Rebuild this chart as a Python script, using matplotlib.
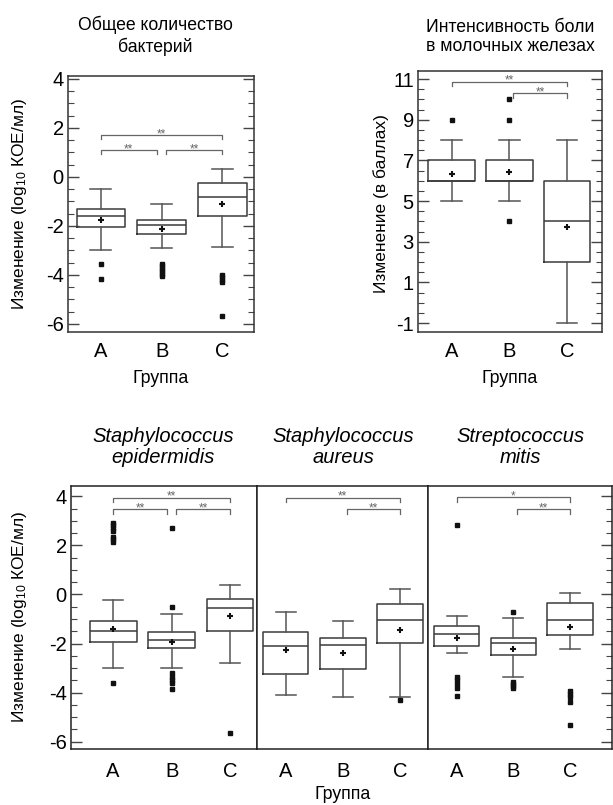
import matplotlib.pyplot as plt
from matplotlib.ticker import MultipleLocator

plt.rcParams["font.family"] = ["Liberation Sans", "DejaVu Sans"]
plt.rcParams["mathtext.fontset"] = "custom"
plt.rcParams["mathtext.rm"] = "Liberation Sans"
plt.rcParams["mathtext.it"] = "Liberation Sans:italic"
plt.rcParams["axes.unicode_minus"] = False

groups = ["A", "B", "C"]

# rows per group: whislo, q1, median, q3, whishi, mean
total_box = [[-3.00, -2.06, -1.61, -1.31, -0.48, -1.75],
             [-2.90, -2.34, -1.97, -1.75, -1.10, -2.13],
             [-2.84, -1.61, -0.80, -0.25, 0.32, -1.10]]
total_out = [[-3.56, -4.17],
             [-3.55, -3.65, -3.75, -3.85, -3.95, -4.05],
             [-4.00, -4.10, -4.20, -4.30, -5.67]]
total_sig = [(1, 3, 1.72, "**"), (1, 2, 1.11, "**"), (2, 3, 1.11, "**")]

pain_box = [[5, 6, 6, 7, 8, 6.35],
            [5, 6, 6, 7, 8, 6.45],
            [-1, 2, 4, 6, 8, 3.75]]
pain_out = [[9], [9, 10, 4], []]
pain_sig = [(1, 3, 10.88, "**"), (2, 3, 10.31, "**")]

epi_box = [[-2.99, -1.93, -1.49, -1.09, -0.23, -1.39],
           [-2.99, -2.20, -1.86, -1.52, -0.78, -1.93],
           [-2.78, -1.49, -0.57, -0.17, 0.38, -0.88]]
epi_out = [[2.14, 2.25, 2.35, 2.6, 2.7, 2.82, 2.93, -3.62],
           [-0.5, 2.72, -3.22, -3.35, -3.48, -3.6, -3.87],
           [-5.66]]
epi_sig = [(1, 3, 3.95, "**"), (1, 2, 3.47, "**"), (2, 3, 3.47, "**")]

aur_box = [[-4.10, -3.24, -2.10, -1.52, -0.71, -2.27],
           [-4.17, -3.05, -2.06, -1.79, -1.09, -2.38],
           [-4.17, -1.96, -1.05, -0.41, 0.21, -1.43]]
aur_out = [[], [], [-4.30]]
aur_sig = [(1, 3, 3.95, "**"), (2, 3, 3.47, "**")]

mit_box = [[-2.40, -2.09, -1.63, -1.28, -0.88, -1.76],
           [-3.35, -2.46, -1.97, -1.77, -0.98, -2.24],
           [-2.23, -1.66, -1.05, -0.33, 0.07, -1.32]]
mit_out = [[2.85, -3.35, -3.5, -3.65, -3.8, -4.15],
           [-0.73, -3.55, -3.65, -3.75, -3.83],
           [-3.92, -4.05, -4.18, -4.37, -5.32]]
mit_sig = [(1, 3, 3.97, "*"), (2, 3, 3.47, "**")]

W, H = 613, 805
fig = plt.figure(figsize=(W / 100, H / 100), dpi=100)

line_c = "#3a3a3a"
frame_c = "#333333"


def px_axes(x0, y0, x1, y1):
    return fig.add_axes([x0 / W, 1 - y1 / H, (x1 - x0) / W, (y1 - y0) / H])


def draw_panel(ax, box, out, sig, xlim, ylim, left=True, right=True, labels=True):
    stats = []
    for b, f in zip(box, out):
        stats.append(dict(whislo=b[0], q1=b[1], med=b[2], q3=b[3], whishi=b[4],
                          mean=b[5], fliers=f))
    ax.bxp(stats, positions=[1, 2, 3], widths=0.8, capwidths=0.35, showmeans=True,
           manage_ticks=False,
           boxprops=dict(color=line_c, linewidth=1.1),
           whiskerprops=dict(color="#555555", linewidth=1.1),
           capprops=dict(color="#555555", linewidth=1.1),
           medianprops=dict(color=line_c, linewidth=1.1),
           meanprops=dict(marker="+", markersize=4, markeredgewidth=1.5,
                          markeredgecolor="#111111"),
           flierprops=dict(marker="s", markersize=2.8, markerfacecolor="#111111",
                           markeredgecolor="#111111"))
    ax.set_xlim(*xlim)
    ax.set_ylim(*ylim)
    drop = 0.018 * (ylim[1] - ylim[0])
    for i, j, y, lab in sig:
        x1 = i + (0.07 if i == 2 else 0.0)
        x2 = j - (0.08 if j == 2 else 0.0)
        ax.plot([x1, x1, x2, x2], [y - drop, y, y, y - drop], color="#666666", lw=0.9)
        ax.text((x1 + x2) / 2, y - drop * 0.5, lab, ha="center", va="baseline",
                fontsize=8.5, color="#666666")
    ax.set_xticks([1, 2, 3])
    ax.set_xticklabels(groups, fontsize=14.5)
    ax.tick_params(axis="x", length=0, pad=7)
    ax.yaxis.set_major_locator(MultipleLocator(2))
    ax.yaxis.set_minor_locator(MultipleLocator(0.5))
    ax.tick_params(axis="y", which="both", direction="in", left=left, right=right,
                   labelleft=labels, labelsize=14.5, pad=3, color="#444444")
    ax.tick_params(axis="y", which="major", length=8, width=1)
    ax.tick_params(axis="y", which="minor", length=4, width=0.8)
    for s in ax.spines.values():
        s.set_color(frame_c)
        s.set_linewidth(1.1)


# top row
ax1 = px_axes(68, 76, 254, 332)
draw_panel(ax1, total_box, total_out, total_sig, (0.46, 3.52), (-6.33, 4.12))
ax1.set_xlabel("Группа", fontsize=12.8, labelpad=7)
ax1.set_ylabel("Изменение (log$_{10}$ КОЕ/мл)", fontsize=12.5)
ax1.yaxis.set_label_coords(29 / W, 0.5, transform=fig.transFigure)
ax1.yaxis.label.set_y(1 - 204 / H)
fig.text(155 / W, 1 - 36 / H, "Общее количество\nбактерий", ha="center", va="center",
         fontsize=12.7, linespacing=1.3)

ax2 = px_axes(418, 71, 602, 332)
draw_panel(ax2, pain_box, pain_out, pain_sig, (0.42, 3.6), (-1.44, 11.4))
ax2.yaxis.set_major_locator(MultipleLocator(2, offset=1))
ax2.set_xlabel("Группа", fontsize=12.8, labelpad=7)
ax2.set_ylabel("Изменение (в баллах)", fontsize=12.5)
ax2.yaxis.set_label_coords(389 / W, 1 - 204 / H, transform=fig.transFigure)
fig.text(510 / W, 1 - 37 / H, "Интенсивность боли\nв молочных железах", ha="center",
         va="center", fontsize=12.7, linespacing=1.2)

# bottom row
ylim_b = (-6.3, 4.42)
ax3 = px_axes(71, 486, 257, 749)
draw_panel(ax3, epi_box, epi_out, epi_sig, (0.28, 3.46), ylim_b, right=False)
ax3.set_ylabel("Изменение (log$_{10}$ КОЕ/мл)", fontsize=12.5)
ax3.yaxis.set_label_coords(29 / W, 1 - 617 / H, transform=fig.transFigure)

ax4 = px_axes(257, 486, 428, 749)
draw_panel(ax4, aur_box, aur_out, aur_sig, (0.5, 3.49), ylim_b, left=False, right=False,
           labels=False)

ax5 = px_axes(428, 486, 612, 749)
draw_panel(ax5, mit_box, mit_out, mit_sig, (0.494, 3.74), ylim_b, left=False, labels=False)

for ax in (ax3, ax4, ax5):
    ax.tick_params(axis="x", pad=9)
    for s in ax.spines.values():
        s.set_color("#222222")

ax4.set_xlabel("Группа", fontsize=12.8, labelpad=4)

titles_b = ["Staphylococcus\nepidermidis", "Staphylococcus\naureus", "Streptococcus\nmitis"]
title_x = [163, 343, 520]
for t, x in zip(titles_b, title_x):
    fig.text(x / W, 1 - 447 / H, t, ha="center", va="center", fontsize=14.5,
             style="italic", linespacing=1.15)

fig.savefig("out.png", dpi=100, facecolor="white")
